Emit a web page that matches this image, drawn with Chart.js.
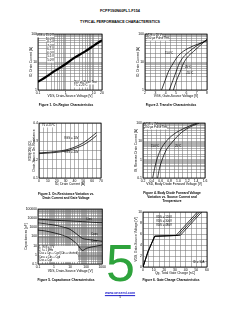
<!DOCTYPE html>
<html><head><meta charset="utf-8">
<script src="https://cdn.jsdelivr.net/npm/chart.js@4.4.0/dist/chart.umd.min.js"></script>
<style>
html,body{margin:0;padding:0;background:#fff;}
body{width:240px;height:310px;position:relative;overflow:hidden;font-family:'Liberation Sans',Arial,sans-serif;}
canvas{position:absolute;}
.t{position:absolute;white-space:nowrap;line-height:1.05;color:#000;}
</style></head><body>
<script>
// ---------- DATA ----------
// Figure 1: On-Region Characteristics (log-log)
const fig1VDS = [0.1, 0.18, 0.4, 0.9, 2, 5, 11, 20];
const fig1ID  = [1.95, 2.8, 4.8, 8, 14, 24, 41, 60];
const fig1XTicks = ['0.1', '1', '10', '20'];
const fig1YTicks = ['1', '10', '100'];
const fig1VGS = ['VGS = 15.0 V', '10.0 V', '8.0 V', '7.0 V', '6.5 V', '6.0 V', '5.5 V', '5.0 V'];

// Figure 2: Transfer Characteristics
const fig2VGS150 = [3.6, 3.95, 4.25, 4.7, 5.15, 5.7, 6.7, 8];
const fig2ID150  = [1, 2.2, 4.4, 8.6, 15.6, 24, 38, 57];
const fig2VGS25  = [4.35, 4.7, 5, 5.3, 5.7, 6.3, 7, 8];
const fig2ID25   = [1, 2.2, 4.4, 8.6, 14.8, 24, 38, 62];
const fig2VGSm55 = [4.75, 5.05, 5.4, 5.7, 6.1, 6.7, 7.3, 8];
const fig2IDm55  = [1, 2.2, 4.4, 8.6, 14.8, 24, 38, 65];
const fig2XTicks = ['2', '3', '4', '5', '6', '7', '8'];
const fig2YTicks = ['1', '10', '100'];

// Figure 3: On-Resistance vs Drain Current
const fig3ID    = [0, 10, 20, 30, 40, 50, 60, 65];
const fig3R10   = [0.237, 0.240, 0.245, 0.253, 0.268, 0.292, 0.328, 0.348];
const fig3R20   = [0.233, 0.236, 0.240, 0.247, 0.260, 0.280, 0.312, 0.332];
const fig3XTicks = ['0', '10', '20', '30', '40', '50', '60', '70'];
const fig3YTicks = ['0.1', '0.2', '0.3', '0.4'];

// Figure 4: Body Diode Forward Voltage
const fig4VSD150 = [0.42, 0.46, 0.51, 0.59, 0.70, 0.89, 1.15, 1.42];
const fig4VSD25  = [0.53, 0.57, 0.63, 0.72, 0.85, 1.02, 1.22, 1.47];
const fig4IS     = [0.1, 0.32, 0.96, 3.2, 8.5, 24, 54, 100];
const fig4XTicks = ['0.2', '0.4', '0.6', '0.8', '1.0', '1.2', '1.4', '1.6'];
const fig4YTicks = ['0.1', '1', '10', '100'];

// Figure 5: Capacitance Characteristics
const fig5VDS  = [0.1, 0.3, 1, 3, 10, 30, 60, 100, 300, 1000];
const fig5Ciss = [8000, 7000, 6000, 5500, 5000, 4500, 4200, 4000, 3500, 3200];
const fig5Coss = [3000, 2500, 1800, 1200, 600, 150, 60, 50, 40, 30];
const fig5Crss = [500, 400, 250, 150, 60, 12, 3, 5, 8, 12];
const fig5XTicks = ['0.1', '1', '10', '100', '1000'];
const fig5YTicks = ['0.1', '1', '10', '100', '1000', '10000', '100000'];

// Figure 6: Gate Charge Characteristics
const fig6Q120 = [0, 4.7, 11, 31, 51];
const fig6Q300 = [0, 4.7, 11, 33, 53];
const fig6Q480 = [0, 4.7, 11, 35, 55];
const fig6VGS  = [0, 2.8, 5.6, 5.75, 10];
const fig6XTicks = ['0', '10', '20', '30', '40', '50', '60'];
const fig6YTicks = ['0', '2', '4', '6', '8', '10'];

// ---------- HELPERS ----------
const F = "'Liberation Sans', Arial, sans-serif";
const frame = {
  id: 'frame',
  afterDraw(ch) {
    const a = ch.chartArea, c = ch.ctx;
    c.save(); c.strokeStyle = '#000'; c.lineWidth = 0.8;
    c.strokeRect(a.left, a.top, a.right - a.left, a.bottom - a.top);
    c.restore();
  }
};
function axis(a, pos, size) {
  return {
    type: a.type, position: pos, min: a.min, max: a.max,
    afterFit: s => { if (pos === 'left') s.width = size; else s.height = size; },
    grid: { color: '#767676', lineWidth: 0.55, drawTicks: false },
    border: { display: false },
    ticks: {
      autoSkip: false, maxRotation: 0, minRotation: 0, padding: 1, color: '#000',
      font: { family: F, size: 3.4 }, stepSize: a.step,
      callback: (v) => {
        const n = Number(v);
        const m = a.labels.find(s => Math.abs(parseFloat(s) - n) <= 1e-6 * Math.max(1, Math.abs(n)));
        return m === undefined ? '' : m;
      }
    },
    title: { display: true, text: a.title, color: '#000', font: { family: F, size: 3.3 }, padding: 0 }
  };
}
function series(xs, ys, w, straight) {
  return {
    data: xs.map((x, i) => ({ x: x, y: ys[i] })),
    borderColor: '#000', borderWidth: w || 0.75, pointRadius: 0, fill: false,
    tension: 0, cubicInterpolationMode: straight ? 'default' : 'monotone'
  };
}
function plot(box, xa, ya, datasets) {
  const w = box.R - box.L + box.yw + box.pr;
  const h = box.B - box.T + box.pt + box.xh;
  const c = document.createElement('canvas');
  c.width = w; c.height = h;
  Object.assign(c.style, { left: (box.L - box.yw) + 'px', top: (box.T - box.pt) + 'px', width: w + 'px', height: h + 'px' });
  document.body.appendChild(c);
  new Chart(c, {
    type: 'line',
    data: { datasets: datasets },
    options: {
      responsive: false, animation: false, devicePixelRatio: 1, events: [],
      layout: { padding: { top: box.pt, right: box.pr, left: 0, bottom: 0 } },
      plugins: { legend: { display: false }, tooltip: { enabled: false }, title: { display: false } },
      scales: { x: axis(xa, 'bottom', box.xh), y: axis(ya, 'left', box.yw) }
    },
    plugins: [frame]
  });
}
function T(text, x, y, size, o) {
  o = o || {};
  const d = document.createElement('div');
  d.className = 't';
  d.textContent = text;
  const al = o.align || 'l';
  const tx = al === 'c' ? '-50%' : (al === 'r' ? '-100%' : '0');
  Object.assign(d.style, {
    left: x + 'px', top: y + 'px', fontSize: size + 'px',
    transform: 'translate(' + tx + ',-50%)',
    fontWeight: o.bold ? 'bold' : 'normal',
    color: o.color || '#000'
  });
  if (o.bg) d.style.background = '#fff';
  if (o.u) d.style.textDecoration = 'underline';
  if (o.lh) d.style.lineHeight = o.lh;
  document.body.appendChild(d);
  return d;
}

// ---------- CHARTS ----------
plot({ L: 38, T: 33, R: 102, B: 90, yw: 9, pt: 2, pr: 4, xh: 8 },
  { type: 'logarithmic', min: 0.1, max: 20, labels: fig1XTicks, title: 'VDS, Drain-Source Voltage [V]' },
  { type: 'logarithmic', min: 1, max: 100, labels: fig1YTicks, title: 'ID, Drain Current [A]' },
  [series(fig1VDS, fig1ID, 2.2)]);

plot({ L: 145, T: 33, R: 207, B: 90, yw: 9, pt: 2, pr: 4, xh: 8 },
  { type: 'linear', min: 2, max: 8, step: 0.5, labels: fig2XTicks, title: 'VGS, Gate-Source Voltage [V]' },
  { type: 'logarithmic', min: 1, max: 100, labels: fig2YTicks, title: 'ID, Drain Current [A]' },
  [series(fig2VGS150, fig2ID150), series(fig2VGS25, fig2ID25), series(fig2VGSm55, fig2IDm55)]);

plot({ L: 39, T: 122, R: 101, B: 178, yw: 11, pt: 2, pr: 4, xh: 8 },
  { type: 'linear', min: 0, max: 70, step: 5, labels: fig3XTicks, title: 'ID, Drain Current [A]' },
  { type: 'linear', min: 0.1, max: 0.4, step: 0.05, labels: fig3YTicks, title: ['RDS(ON) [Ω],', 'Drain-Source On-Resistance'] },
  [series(fig3ID, fig3R10), series(fig3ID, fig3R20)]);

plot({ L: 143, T: 122, R: 205, B: 178, yw: 9, pt: 2, pr: 4, xh: 8 },
  { type: 'linear', min: 0.2, max: 1.6, step: 0.1, labels: fig4XTicks, title: 'VSD, Body Diode Forward Voltage [V]' },
  { type: 'logarithmic', min: 0.1, max: 100, labels: fig4YTicks, title: 'IS, Reverse Drain Current [A]' },
  [series(fig4VSD150, fig4IS), series(fig4VSD25, fig4IS)]);

plot({ L: 38, T: 208, R: 103, B: 264, yw: 14, pt: 2, pr: 4, xh: 9 },
  { type: 'logarithmic', min: 0.1, max: 1000, labels: fig5XTicks, title: 'VDS, Drain-Source Voltage [V]' },
  { type: 'logarithmic', min: 0.1, max: 100000, labels: fig5YTicks, title: 'Capacitances [pF]' },
  [series(fig5VDS, fig5Ciss), series(fig5VDS, fig5Coss), series(fig5VDS, fig5Crss)]);

plot({ L: 143, T: 211, R: 207, B: 267, yw: 9, pt: 2, pr: 4, xh: 8 },
  { type: 'linear', min: 0, max: 60, step: 5, labels: fig6XTicks, title: 'Qg, Total Gate Charge [nC]' },
  { type: 'linear', min: 0, max: 10, step: 1, labels: fig6YTicks, title: 'VGS, Gate-Source Voltage [V]' },
  [series(fig6Q120, fig6VGS, 0.75, true), series(fig6Q300, fig6VGS, 0.75, true), series(fig6Q480, fig6VGS, 0.75, true)]);

// ---------- TEXT ----------
T('FCPF190N60FL1-F154', 120, 11, 3.8, { align: 'c', bold: true });
T('TYPICAL PERFORMANCE CHARACTERISTICS', 120, 22.5, 3.6, { align: 'c', bold: true });

// fig 1 notes
fig1VGS.forEach((s, i) => T(s, 54, 36 + i * 3.5, 2.9, { align: 'r', bg: true }));
T('250 μs Pulse Test', 74, 82.5, 2.9, { bg: true });
T('TC = 25°C', 74, 86, 2.9, { bg: true });
// fig 2 notes
T('VDS = 20 V', 146.5, 35.8, 2.9, { bg: true });
T('250 μs Pulse Test', 146.5, 39.3, 2.9, { bg: true });
T('150°C', 165, 54, 2.9);
T('25°C', 185, 68, 2.9);
T('-55°C', 186, 74, 2.9);
// fig 3 notes
T('TJ = 25°C', 42, 125.5, 2.9, { bg: true });
T('VGS = 10V', 64, 139, 2.9);
T('VGS = 20V', 64, 152.5, 2.9);
// fig 4 notes
T('VGS = 0V', 144.5, 124.5, 2.9, { bg: true });
T('250 μs Pulse Test', 144.5, 128, 2.9, { bg: true });
T('150°C', 151, 147, 2.9);
T('25°C', 175, 147, 2.9);
// fig 5 notes
T('Ciss', 86, 219.5, 2.9);
T('Coss', 91, 235, 2.9);
T('Crss', 91, 242, 2.9);
const n5 = T('', 39, 254, 2.6, { bg: true, lh: '1.25' });
n5.innerHTML = '1. VGS = 0 V<br>2. f = 1 MHz<br>Ciss = Cgs + Cgd (Cds = shorted)<br>Coss = Cds + Cgd<br>Crss = Cgd';
// fig 6 notes
T('VDS = 120V', 156, 218, 2.9);
T('VDS = 300V', 156, 222, 2.9);
T('VDS = 480V', 156, 226, 2.9);
T('ID = 10A', 193, 263, 2.9);

// captions
T('Figure 1. On-Region Characteristics', 66, 106, 3.2, { align: 'c', bold: true });
T('Figure 2. Transfer Characteristics', 171, 106, 3.2, { align: 'c', bold: true });
T('Figure 3. On-Resistance Variation vs.', 66, 194.5, 3.2, { align: 'c', bold: true });
T('Drain Current and Gate Voltage', 66, 198.5, 3.2, { align: 'c', bold: true });
T('Figure 4. Body Diode Forward Voltage', 172, 194, 3.2, { align: 'c', bold: true });
T('Variation vs. Source Current and', 172, 198, 3.2, { align: 'c', bold: true });
T('Temperature', 172, 202, 3.2, { align: 'c', bold: true });
T('Figure 5. Capacitance Characteristics', 66, 281, 3.2, { align: 'c', bold: true });
T('Figure 6. Gate Charge Characteristics', 171, 281, 3.2, { align: 'c', bold: true });

// big green 5
const g = T('5', 106, 263, 52, { color: '#2ea33c' });
g.style.lineHeight = '1';

// footer
T('www.onsemi.com', 120, 294, 3.6, { align: 'c', bold: true, color: '#1a1acc', u: true });
T('5', 120, 298, 3, { align: 'c' });
</script>
</body></html>
